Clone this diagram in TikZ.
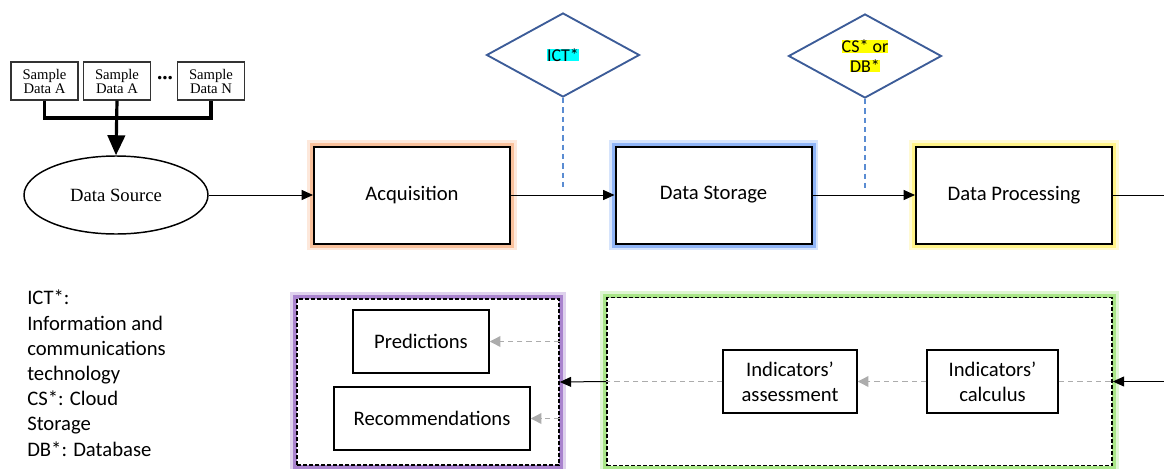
\documentclass[tikz,border=0pt]{standalone}
\usepackage{fontspec}
\setmainfont{Carlito}
\newfontfamily\timesfont{Liberation Serif}
\usetikzlibrary{arrows.meta,shapes.geometric}

\definecolor{diablue}{RGB}{60,92,152}
\definecolor{linkblue}{RGB}{90,140,210}
\definecolor{hintgray}{RGB}{172,172,172}
\definecolor{hlcyan}{RGB}{0,255,255}
\definecolor{hlyellow}{RGB}{255,255,0}
\definecolor{glowor}{RGB}{248,180,135}
\definecolor{glowbl}{RGB}{120,165,245}
\definecolor{glowye}{RGB}{255,240,110}
\definecolor{glowpu}{RGB}{150,105,195}
\definecolor{glowgr}{RGB}{150,225,110}

\begin{document}
\begin{tikzpicture}[x=0.75pt,y=-0.75pt,
    glow/.style={preaction={draw=#1,solid,line width=10pt,opacity=0.3},
                 preaction={draw=#1,solid,line width=6pt,opacity=0.75}},
    stage/.style={draw,line width=1.5pt,fill=white,minimum width=147pt,minimum height=72.75pt,
                  font=\fontsize{15.5}{19}\selectfont},
    group/.style={draw,line width=1.2pt,dash pattern=on 3pt off 1.5pt,fill=white},
    inbox/.style={draw,line width=1.1pt,fill=white,align=center,minimum height=47.25pt,
                  font=\fontsize{15.5}{19}\selectfont},
    sample/.style={draw=black!80,line width=0.8pt,minimum width=50.25pt,minimum height=28.5pt,
                   align=center,inner sep=0pt,font=\timesfont\fontsize{11}{10.5}\selectfont},
    dia/.style={diamond,draw=diablue,line width=1.4pt,minimum width=114.75pt,minimum height=63pt,
                inner sep=0pt,align=center,font=\fontsize{13.5}{15}\selectfont},
    flow/.style={-{Triangle[length=8.5pt,width=7.5pt]},line width=0.75pt},
    hint/.style={draw=hintgray,line width=1pt,dash pattern=on 4pt off 3pt},
    link/.style={draw=linkblue,line width=1.2pt,dash pattern=on 4pt off 3pt}]
\useasboundingbox (0,0) rectangle (1164,468);

% sources
\node (s1) at (44.5,81) [sample] {Sample\\Data A};
\node (s2) at (117,81) [sample] {Sample\\Data A};
\node (s3) at (211,81) [sample] {Sample\\Data N};
\node (dots) at (165,78) [font=\timesfont\fontsize{16}{16}\selectfont\bfseries] {...};
\coordinate (join) at (117,118);
\node (src) at (116,195) [ellipse,draw,line width=1.1pt,minimum width=138pt,minimum height=58.5pt,
      font=\timesfont\fontsize{14}{14}\selectfont] {Data Source};

% stages
\node (acq) at (412,195) [stage,glow=glowor] {Acquisition};
\node (stor) at (713.5,195) [stage,glow=glowbl] {Data Storage};
\node (proc) at (1014,195) [stage,glow=glowye] {Data Processing};
\coordinate (outR) at (1164,195);

\node (ict) at (563,55) [dia] {\setlength{\fboxsep}{0pt}\colorbox{hlcyan}{ICT*}};
\node (csdb) at (865,56) [dia] {\setlength{\fboxsep}{0pt}\colorbox{hlyellow}{CS* or}\\\setlength{\fboxsep}{0pt}\colorbox{hlyellow}{DB*}};
\coordinate (ictend) at (563,190);
\coordinate (csdbend) at (865,192);

% results
\node (res) at (428,382) [group,glow=glowpu,minimum width=196.5pt,minimum height=124.5pt] {};
\node (ind) at (859.5,381.5) [group,glow=glowgr,minimum width=378.75pt,minimum height=126pt] {};
\node (pred) at (421,341.5) [inbox,minimum width=102pt] {Predictions};
\node (rec) at (432,418.5) [inbox,minimum width=147pt] {Recommendations};
\node (ass) at (790,381.5) [inbox,minimum width=100.5pt] {Indicators’\\assessment};
\node (calc) at (992.5,381.5) [inbox,minimum width=98.25pt] {Indicators’\\calculus};
\coordinate (inR) at (1164,381.5);

\node (legend) at (27,290) [anchor=north west,inner sep=0pt,align=left,
      font=\fontsize{15.5}{18.9}\selectfont]
      {ICT*:\\Information and\\communications\\technology\\CS*: Cloud\\Storage\\DB*: Database};

\draw [line width=2.4pt] (s1.south) |- (join) -| (s3.south);
\draw [line width=2.4pt,-{Triangle[length=15pt,width=13pt]}] (s2.south) -- (src.north);

\draw [flow] (src.east) -- (acq.west);
\draw [flow] (acq.east) -- (stor.west);
\draw [flow] (stor.east) -- (proc.west);
\draw [line width=0.75pt] (proc.east) -- (outR);
\draw [link] (ict.south) -- (ictend);
\draw [link] (csdb.south) -- (csdbend);

\draw [hint] (calc.east) -- (ind.east);
\draw [hint,-{Triangle[length=8pt,width=8pt]},hintgray] (calc.west) -- (ass.east);
\draw [hint] (ass.west) -- (ind.west);
\draw [hint,-{Triangle[length=8pt,width=8pt]},hintgray] (res.east |- pred.east) -- (pred.east);
\draw [hint,-{Triangle[length=8pt,width=8pt]},hintgray] (res.east |- rec.east) -- (rec.east);
\draw [flow] (inR) -- (ind.east);
\draw [flow] (ind.west) -- (res.east);

\end{tikzpicture}
\end{document}
